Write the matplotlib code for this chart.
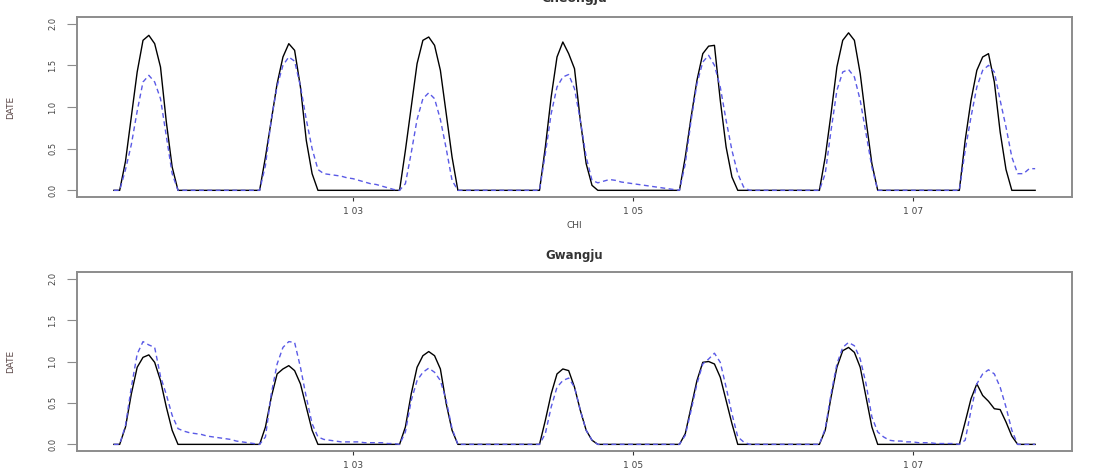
import matplotlib
matplotlib.use("Agg")
import matplotlib.pyplot as plt
import numpy as np

# hourly time index (hours since day 1 00:00), 7 .. 165
hours = list(range(7, 166))
tick_pos = [48, 96, 144]
tick_labels = ["1 03", "1 05", "1 07"]
ytick_pos = [0.0, 0.5, 1.0, 1.5, 2.0]
ytick_labels = ["0.0", "0.5", "1.0", "1.5", "2.0"]

Z12 = [0] * 12
Z11 = [0] * 11

# ---------------- Cheongju ----------------
cheongju_obs = (
    [0, 0, 0.35, 0.88, 1.42, 1.80, 1.86, 1.76, 1.48, 0.82, 0.28, 0] + Z12 +
    [0, 0, 0.40, 0.84, 1.28, 1.60, 1.76, 1.68, 1.24, 0.60, 0.20, 0] + Z12 +
    [0, 0, 0.48, 1.00, 1.52, 1.80, 1.84, 1.74, 1.44, 0.92, 0.40, 0] + Z12 +
    [0, 0, 0.52, 1.12, 1.60, 1.78, 1.64, 1.46, 0.84, 0.32, 0.06, 0] + Z12 +
    [0, 0, 0.40, 0.88, 1.32, 1.64, 1.73, 1.74, 1.08, 0.52, 0.16, 0] + Z12 +
    [0, 0, 0.40, 0.92, 1.48, 1.80, 1.89, 1.80, 1.40, 0.84, 0.32, 0] + Z12 +
    [0, 0, 0.60, 1.08, 1.44, 1.60, 1.64, 1.30, 0.70, 0.25, 0, 0, 0, 0, 0]
)
cheongju_pred = (
    [0, 0, 0.25, 0.55, 0.95, 1.30, 1.38, 1.30, 1.10, 0.65, 0.20, 0] + Z12 +
    [0, 0, 0.30, 0.85, 1.25, 1.50, 1.60, 1.55, 1.25, 0.85, 0.50, 0.25,
     0.20, 0.19, 0.18, 0.17, 0.15, 0.14, 0.12, 0.10, 0.08, 0.07, 0.05, 0.03] +
    [0.01, 0, 0.08, 0.45, 0.85, 1.10, 1.17, 1.10, 0.85, 0.50, 0.12, 0] + Z12 +
    [0, 0, 0.44, 0.92, 1.24, 1.36, 1.39, 1.22, 0.84, 0.40, 0.12, 0.09,
     0.11, 0.13, 0.12, 0.10, 0.09, 0.08, 0.07, 0.06, 0.05, 0.04, 0.03, 0.02] +
    [0.01, 0, 0.32, 0.84, 1.28, 1.54, 1.62, 1.50, 1.24, 0.84, 0.48, 0.20, 0.04] + Z11 +
    [0, 0, 0.20, 0.72, 1.20, 1.42, 1.45, 1.36, 1.08, 0.68, 0.28, 0] + Z12 +
    [0, 0, 0.48, 0.88, 1.24, 1.44, 1.50, 1.42, 1.08, 0.76, 0.40, 0.20, 0.20, 0.26, 0.26]
)

# ---------------- Gwangju ----------------
gwangju_obs = (
    [0, 0, 0.21, 0.61, 0.93, 1.05, 1.08, 0.99, 0.77, 0.45, 0.17, 0] + Z12 +
    [0, 0, 0.21, 0.57, 0.85, 0.91, 0.95, 0.89, 0.73, 0.45, 0.17, 0] + Z12 +
    [0, 0, 0.21, 0.61, 0.93, 1.07, 1.12, 1.07, 0.91, 0.49, 0.17, 0] + Z12 +
    [0, 0, 0.29, 0.61, 0.85, 0.91, 0.89, 0.69, 0.41, 0.17, 0.05, 0] + Z12 +
    [0, 0, 0.13, 0.45, 0.77, 0.99, 1.00, 0.97, 0.81, 0.53, 0.25, 0] + Z12 +
    [0, 0, 0.17, 0.57, 0.93, 1.13, 1.17, 1.11, 0.93, 0.57, 0.21, 0] + Z12 +
    [0, 0, 0.27, 0.55, 0.73, 0.59, 0.52, 0.43, 0.42, 0.27, 0.10, 0, 0, 0, 0]
)
gwangju_pred = (
    [0, 0, 0.23, 0.69, 1.09, 1.24, 1.20, 1.17, 0.82, 0.60, 0.35, 0.19,
     0.16, 0.14, 0.13, 0.12, 0.10, 0.09, 0.08, 0.07, 0.06, 0.04, 0.03, 0.02] +
    [0.01, 0, 0.09, 0.61, 0.97, 1.17, 1.24, 1.23, 0.93, 0.57, 0.25, 0.09,
     0.06, 0.05, 0.04, 0.03, 0.03, 0.03, 0.03, 0.02, 0.02, 0.02, 0.02, 0.01] +
    [0.01, 0, 0.15, 0.53, 0.77, 0.87, 0.92, 0.87, 0.77, 0.53, 0.19, 0] + Z12 +
    [0, 0, 0.13, 0.45, 0.69, 0.77, 0.80, 0.69, 0.41, 0.17, 0.05, 0] + Z12 +
    [0, 0, 0.11, 0.41, 0.73, 0.97, 1.03, 1.10, 0.99, 0.69, 0.37, 0.09, 0.03] + Z11 +
    [0, 0, 0.19, 0.61, 0.97, 1.17, 1.23, 1.19, 1.03, 0.73, 0.33, 0.15,
     0.09, 0.05, 0.04, 0.04, 0.03, 0.03, 0.02, 0.02, 0.02, 0.01, 0.01, 0.01] +
    [0.01, 0, 0.05, 0.41, 0.73, 0.85, 0.90, 0.85, 0.69, 0.45, 0.17, 0, 0, 0, 0]
)

W, H = 1098, 472
fig = plt.figure(figsize=(W / 100, H / 100), dpi=100)

SPINE = "#8c8c8c"
TXT = "#444444"
BLUE = "#5a5ae6"


def panel(rect, title, obs, pred, xlabel=None):
    ax = fig.add_axes(rect)
    ax.plot(hours, obs, color="black", lw=1.0, solid_joinstyle="round")
    ax.plot(hours, pred, color=BLUE, lw=1.0, linestyle=(0, (3.5, 2.5)))
    ax.margins(x=0.04)
    ax.set_ylim(-0.08, 2.08)
    ax.set_xticks(tick_pos)
    ax.set_xticklabels(tick_labels)
    ax.set_yticks(ytick_pos)
    ax.set_yticklabels(ytick_labels, rotation=90, va="center")
    for s in ax.spines.values():
        s.set_color(SPINE)
        s.set_linewidth(1.4)
    ax.tick_params(axis="y", length=7, width=0.8, color=SPINE, pad=7,
                   labelsize=6, labelcolor=TXT)
    ax.tick_params(axis="x", length=3, width=0.8, color="#333333", pad=4,
                   labelsize=6.5, labelcolor=TXT)
    ax.set_ylabel("DATE", fontsize=6.5, color="#5a4646")
    ax.yaxis.set_label_coords(-0.062, 0.5)
    if xlabel:
        ax.set_xlabel(xlabel, fontsize=6.5, color=TXT)
        ax.xaxis.set_label_coords(0.5, -0.135)
    return ax


left = 77 / W
width = (1072 - 77) / W
ax1 = panel([left, 1 - 197 / H, width, (197 - 17) / H], "Cheongju",
            cheongju_obs, cheongju_pred, xlabel="CHI")
ax2 = panel([left, 1 - 451 / H, width, (451 - 272) / H], "Gwangju",
            gwangju_obs, gwangju_pred)

cx = (77 + 1072) / 2 / W
fig.text(cx, 1 - 5 / H, "Cheongju", ha="center", va="bottom",
         fontsize=9, fontweight="bold", color="#333333")
fig.text(cx, 1 - 256 / H, "Gwangju", ha="center", va="center",
         fontsize=8.5, fontweight="bold", color="#333333")

fig.savefig("out.png", dpi=100)
